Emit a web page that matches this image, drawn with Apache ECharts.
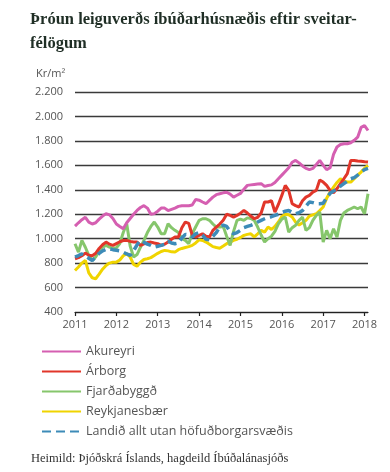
<!DOCTYPE html>
<html>
<head>
<meta charset="utf-8">
<script src="https://cdn.jsdelivr.net/npm/echarts@6/dist/echarts.min.js"></script>
<style>
html,body{margin:0;padding:0;background:#fff;}
#chart{width:390px;height:472px;}
</style>
</head>
<body>
<div id="chart"></div>
<script>
var years = ['2011','2012','2013','2014','2015','2016','2017','2018'];
var seriesNames = ['Akureyri','Árborg','Fjarðabyggð','Reykjanesbær','Landið allt utan höfuðborgarsvæðis'];
var yTicks = [400,600,800,1000,1200,1400,1600,1800,2000,2200];

var akureyri = [1103,1130,1155,1175,1135,1120,1130,1160,1185,1204,1195,1165,
  1120,1100,1081,1130,1165,1200,1231,1255,1270,1250,1200,1205,
  1225,1250,1250,1230,1240,1250,1264,1270,1270,1270,1275,1320,
  1315,1300,1286,1313,1340,1360,1368,1375,1380,1365,1340,1355,
  1370,1405,1436,1440,1444,1448,1450,1428,1435,1440,1460,1490,
  1520,1550,1580,1625,1640,1620,1595,1575,1565,1575,1607,1640,
  1600,1565,1580,1690,1750,1770,1777,1777,1785,1805,1830,1910,
  1925,1885];
var arborg = [836,845,860,882,865,860,880,920,950,972,955,945,
  960,975,985,986,978,972,972,945,958,968,972,965,
  959,945,955,972,995,1013,1013,1090,1136,1125,1030,1013,
  1027,1040,1020,1013,1068,1095,1120,1150,1200,1190,1177,1190,
  1209,1231,1210,1185,1163,1175,1210,1300,1300,1310,1218,1280,
  1354,1436,1395,1286,1270,1259,1310,1340,1354,1381,1395,1480,
  1463,1436,1395,1375,1410,1450,1490,1532,1640,1640,1635,1634,
  1630,1627];
var fjardabyggd = [958,890,986,930,863,822,850,900,930,945,931,920,
  925,960,1050,1122,940,850,870,930,986,1050,1100,1136,
  1095,1040,1040,1122,1090,1068,1050,1000,986,960,1040,1095,
  1150,1163,1163,1150,1120,1095,1095,1100,1020,945,1060,1150,
  1160,1150,1170,1165,1150,1095,1030,973,1000,1020,1060,1122,
  1160,1177,1054,1090,1110,1150,1177,1068,1090,1150,1190,1218,
  973,1068,999,1081,1013,1150,1210,1231,1245,1259,1245,1259,
  1204,1368];
var reykjanesbaer = [740,768,800,822,720,680,672,710,750,781,800,808,
  808,825,860,877,850,790,775,808,830,836,845,863,
  880,895,904,900,892,890,910,920,928,935,945,965,
  990,985,972,955,935,928,922,940,959,972,986,995,
  1010,1027,1035,1040,1015,1040,1068,1054,1095,1075,1100,1136,
  1180,1200,1195,1177,1135,1112,1130,1150,1185,1195,1204,1230,
  1259,1330,1380,1422,1460,1490,1470,1463,1463,1490,1520,1545,
  1575,1600];
var landid = [850,862,875,860,840,822,850,880,900,912,917,910,
  905,900,890,875,863,900,950,986,970,955,945,931,
  938,945,955,980,965,959,965,1005,1035,1030,1013,1040,
  1050,1030,995,990,1020,1050,1100,1110,1100,1060,1040,1050,
  1068,1090,1100,1109,1120,1136,1150,1163,1175,1180,1190,1200,
  1215,1225,1231,1215,1204,1212,1230,1265,1300,1295,1286,1286,
  1290,1335,1370,1390,1405,1430,1450,1470,1490,1500,1520,1545,
  1565,1575];

var months = [];
for (var y = 2011; y <= 2018; y++) {
  for (var m = 1; m <= 12; m++) {
    if (months.length < akureyri.length) months.push(y + '-' + (m < 10 ? '0' + m : m));
  }
}

var colors = ['#d55fb1','#e1362a','#86c66c','#f0d400','#3d8bb8'];
var values = [akureyri, arborg, fjardabyggd, reykjanesbaer, landid];

var chart = echarts.init(document.getElementById('chart'), null, {renderer:'canvas'});
var series = seriesNames.map(function(n, i){
  return {
    name: n,
    type: 'line',
    data: values[i],
    symbol: 'none',
    showSymbol: false,
    smooth: false,
    z: i === 4 ? 10 : 5 - i,
    lineStyle: {
      color: colors[i],
      width: i === 4 ? 3.5 : 3,
      type: i === 4 ? [9, 5] : 'solid',
      cap: 'butt'
    },
    itemStyle: {color: colors[i]}
  };
});

chart.setOption({
  animation: false,
  backgroundColor: '#fff',
  textStyle: {fontFamily: 'Open Sans'},
  grid: {left: 75, right: 22, top: 92, bottom: 160, containLabel: false},
  legend: {
    orient: 'vertical',
    left: 36,
    top: 340,
    itemWidth: 39,
    itemHeight: 14,
    itemGap: 7,
    data: seriesNames,
    itemStyle: {opacity: 0, borderWidth: 0},
    textStyle: {color: '#555', fontSize: 12.5, fontFamily: 'Open Sans'},
    selectedMode: false
  },
  xAxis: {
    type: 'category',
    data: months,
    boundaryGap: false,
    axisLine: {lineStyle: {color: '#222', width: 1.2}},
    axisTick: {
      interval: function(idx){ return idx % 12 === 0; },
      length: 4, inside: false,
      lineStyle: {color: '#222', width: 1.2}
    },
    axisLabel: {
      interval: function(idx){ return idx % 12 === 0; },
      formatter: function(v){ return v.slice(0,4); },
      color: '#555', fontSize: 11, margin: 7, fontFamily: 'Open Sans'
    },
    splitLine: {show: false}
  },
  yAxis: {
    type: 'value',
    min: yTicks[0],
    max: yTicks[yTicks.length-1],
    interval: 200,
    axisLine: {show: false},
    axisTick: {show: false},
    axisLabel: {
      color: '#555', fontSize: 11, margin: 12, fontFamily: 'Open Sans',
      formatter: function(v){ return String(v).replace(/\B(?=(\d{3})+(?!\d))/g, '.'); }
    },
    splitLine: {lineStyle: {color: '#3a3a3a', width: 1.3}}
  },
  graphic: [
    {type: 'text', left: 30, top: 8, style: {
      text: 'Þróun leiguverðs íbúðarhúsnæðis eftir sveitar-\nfélögum',
      font: 'bold 16.5px "Liberation Serif", serif',
      fill: '#1f2e25', lineHeight: 24
    }},
    {type: 'text', left: 36, top: 68, style: {
      text: 'Kr/m²', font: '11px "Open Sans", sans-serif', fill: '#555'
    }},
    {type: 'text', left: 31, top: 452, style: {
      text: 'Heimild: Þjóðskrá Íslands, hagdeild Íbúðalánasjóðs',
      font: '12.5px "Liberation Serif", serif', fill: '#333'
    }}
  ],
  series: series
});
</script>
</body>
</html>
